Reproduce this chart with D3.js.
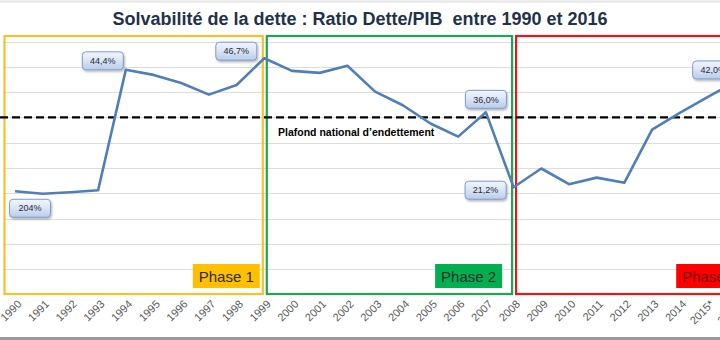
<!DOCTYPE html>
<html>
<head>
<meta charset="utf-8">
<script src="https://cdn.jsdelivr.net/npm/d3@7"></script>
<style>
  html, body { margin: 0; padding: 0; background: #fff; }
  svg { display: block; font-family: "Liberation Sans", Arial, sans-serif; }
</style>
</head>
<body>
<svg id="chart" width="720" height="340"></svg>
<script>
// Debt-to-GDP ratio (%), 1990–2016
const years = ["1990","1991","1992","1993","1994","1995","1996","1997","1998","1999",
  "2000","2001","2002","2003","2004","2005","2006","2007","2008","2009",
  "2010","2011","2012","2013","2014","2015*","2016*"];
const ratio = [20.4, 19.9, 20.2, 20.6, 44.4, 43.4, 41.8, 39.5, 41.4, 46.7,
  44.2, 43.8, 45.2, 40.1, 37.4, 33.8, 31.2, 36.0, 21.2, 24.9,
  21.8, 23.1, 22.1, 32.6, 35.9, 39.0, 42.0];
const gridValues = [5, 10, 15, 20, 25, 30, 35, 40, 45, 50];
const ceilingValue = 35;
const ceilingLabel = "Plafond national d\u2019endettement";

// Annotated points
const calloutYears = ["1990", "1994", "1999", "2007", "2008", "2016*"];
const calloutTexts = ["204%", "44,4%", "46,7%", "36,0%", "21,2%", "42,0%"];

// Phases
const phaseNames = ["Phase 1", "Phase 2", "Phase 3"];
const phaseStart = ["1990", "1999", "2008"];
const phaseEnd = ["1999", "2008", "2016*"];
const phaseColors = ["#F5C12E", "#1FA553", "#E3191C"];
const phaseFills = ["#FFC000", "#00B050", "#FF0000"];

const svg = d3.select("#chart");
const W = 720, H = 340;

const x = d3.scalePoint().domain(years).range([15, 15 + 26 * 27.7]);
const y = d3.scaleLinear().domain([0, 50]).range([294.5, 41.5]);

// Frame lines
svg.append("line").attr("x1", 0).attr("x2", W).attr("y1", 1.5).attr("y2", 1.5)
  .attr("stroke", "#E4E4E4").attr("stroke-width", 2);
svg.append("line").attr("x1", 0).attr("x2", W).attr("y1", 338.5).attr("y2", 338.5)
  .attr("stroke", "#9A9A9A").attr("stroke-width", 3);

// Title
svg.append("text")
  .attr("x", 360).attr("y", 25)
  .attr("text-anchor", "middle")
  .attr("font-size", 18).attr("font-weight", "bold")
  .attr("fill", "#1F3249")
  .attr("xml:space", "preserve")
  .text("Solvabilit\u00e9 de la dette : Ratio Dette/PIB  entre 1990 et 2016");

// Horizontal gridlines
svg.append("g").selectAll("line").data(gridValues).join("line")
  .attr("x1", 3).attr("x2", W)
  .attr("y1", d => Math.round(y(d)) + 0.5).attr("y2", d => Math.round(y(d)) + 0.5)
  .attr("stroke", "#DDDDDD").attr("stroke-width", 1);

// Phase frames
const phases = phaseNames.map((n, i) => ({ name: n, s: phaseStart[i], e: phaseEnd[i], c: phaseColors[i], f: phaseFills[i], i }));
const frameLeft = p => p.i === 0 ? x(p.s) - 10.5 : x(p.s) + 2.5;
const frameRight = p => p.i === 2 ? x(p.e) + 20 : x(p.e) - 1.5;
const frameTop = 36, frameBottom = 294;

svg.append("g").selectAll("rect").data(phases).join("rect")
  .attr("x", d => frameLeft(d)).attr("y", frameTop)
  .attr("width", d => frameRight(d) - frameLeft(d)).attr("height", frameBottom - frameTop)
  .attr("fill", "none").attr("stroke", d => d.c).attr("stroke-width", 2.2);

// Phase tags
const tagW = 67, tagH = 24;
const tagGap = [3, 10, 12];
const tags = svg.append("g").selectAll("g").data(phases).join("g")
  .attr("transform", d => `translate(${frameRight(d) - tagGap[d.i] - tagW},264)`);
tags.append("rect").attr("width", tagW).attr("height", tagH).attr("fill", d => d.f);
tags.append("text").attr("x", tagW / 2).attr("y", 17.5)
  .attr("text-anchor", "middle").attr("font-size", 15)
  .attr("fill", d => d.i === 2 ? "#7A0A0A" : "#2A2A2A")
  .text(d => d.name);

// Debt ceiling
svg.append("line")
  .attr("x1", 0).attr("x2", W)
  .attr("y1", y(ceilingValue)).attr("y2", y(ceilingValue))
  .attr("stroke", "#000").attr("stroke-width", 2.4)
  .attr("stroke-dasharray", "8,4");
svg.append("text")
  .attr("x", 278).attr("y", y(ceilingValue) + 19)
  .attr("font-size", 10.5).attr("font-weight", "bold").attr("fill", "#000")
  .text(ceilingLabel);

// Ratio line
const line = d3.line()
  .defined(d => d[1] != null)
  .x(d => x(d[0])).y(d => y(d[1]));
svg.append("path")
  .datum(years.map((yr, i) => [yr, ratio[i]]))
  .attr("d", line)
  .attr("fill", "none").attr("stroke", "#4F7EBB").attr("stroke-width", 2.6)
  .attr("stroke-linejoin", "round");

// X axis labels
const axis = d3.axisBottom(x).tickSize(0).tickPadding(0);
const gx = svg.append("g").attr("transform", "translate(0,300)").call(axis);
gx.select(".domain").remove();
gx.selectAll("text")
  .attr("font-size", 11).attr("fill", "#595959")
  .attr("font-family", "\"Liberation Sans\", Arial, sans-serif")
  .attr("text-anchor", "end")
  .attr("dy", "0.35em")
  .attr("transform", "translate(4,2) rotate(-45)");

// Callouts
const defs = svg.append("defs");
const grad = defs.append("linearGradient").attr("id", "callFill")
  .attr("x1", 0).attr("y1", 0).attr("x2", 0).attr("y2", 1);
grad.append("stop").attr("offset", "0%").attr("stop-color", "#F2F6FC");
grad.append("stop").attr("offset", "45%").attr("stop-color", "#DCE6F5");
grad.append("stop").attr("offset", "100%").attr("stop-color", "#B9CCEA");
const shadow = defs.append("filter").attr("id", "callShadow")
  .attr("x", "-20%").attr("y", "-20%").attr("width", "150%").attr("height", "160%");
shadow.append("feDropShadow").attr("dx", 1).attr("dy", 1.5).attr("stdDeviation", 1)
  .attr("flood-color", "#000").attr("flood-opacity", 0.3);

// Box centre offsets from each annotated point
const calloutOffset = {
  "1990": [15, 17],
  "1994": [-23, -9],
  "1999": [-28, -7],
  "2007": [0, -13],
  "2008": [-28, 3],
  "2016*": [-22, -12]
};
const cw = 41, ch = 18;
const callouts = svg.append("g").selectAll("g")
  .data(calloutYears.map((yr, i) => ({ yr, t: calloutTexts[i], v: ratio[years.indexOf(yr)] })))
  .join("g")
  .attr("transform", d => {
    const o = calloutOffset[d.yr];
    return `translate(${x(d.yr) + o[0] - cw / 2},${y(d.v) + o[1] - ch / 2})`;
  });
callouts.append("rect")
  .attr("width", cw).attr("height", ch).attr("rx", 3.5)
  .attr("fill", "url(#callFill)").attr("stroke", "#7E9CCB").attr("stroke-width", 1)
  .attr("filter", "url(#callShadow)");
callouts.append("text")
  .attr("x", cw / 2).attr("y", ch / 2 + 3.2)
  .attr("text-anchor", "middle").attr("font-size", 9).attr("fill", "#1E2B3E")
  .text(d => d.t);
</script>
</body>
</html>
